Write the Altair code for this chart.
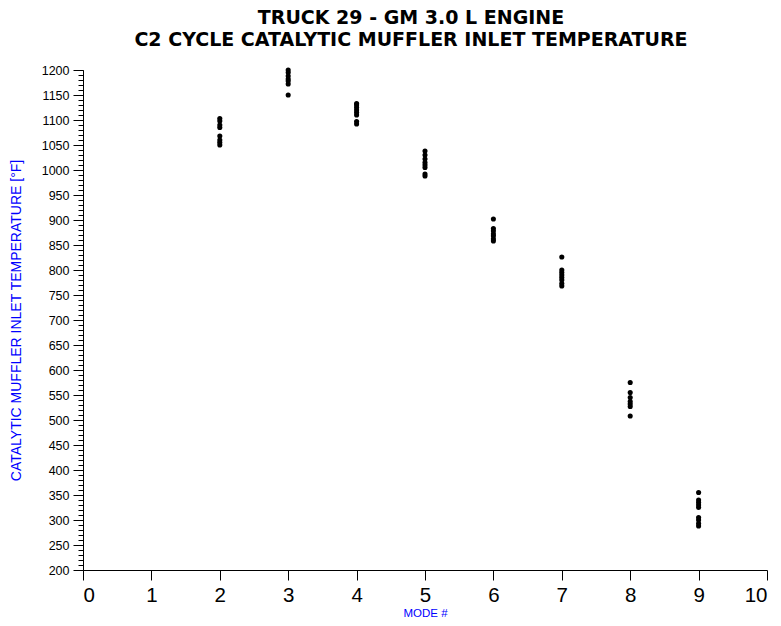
import altair as alt
import pandas as pd

mode2 = [1050, 1055, 1060, 1068, 1085, 1090, 1098, 1103]
mode3 = [1150, 1172, 1178, 1182, 1188, 1195, 1200]
mode4 = [1092, 1097, 1110, 1115, 1120, 1125, 1130, 1133]
mode5 = [988, 992, 1005, 1010, 1015, 1022, 1030, 1038]
mode6 = [858, 862, 868, 872, 878, 883, 902]
mode7 = [768, 773, 780, 785, 790, 795, 800, 826]
mode8 = [508, 527, 532, 537, 545, 555, 575]
mode9 = [288, 293, 300, 305, 325, 330, 335, 340, 355]

series = {2: mode2, 3: mode3, 4: mode4, 5: mode5, 6: mode6, 7: mode7, 8: mode8, 9: mode9}
rows = [{"mode": m, "temp": v} for m, vals in series.items() for v in vals]
df = pd.DataFrame(rows)

x_ticks = list(range(0, 11))
y_major = list(range(200, 1201, 50))
y_minor = list(range(200, 1201, 10))

FONT = "Liberation Sans"
WIDE = "DejaVu Sans"

xscale = alt.Scale(domain=[0, 10], nice=False, zero=False)
yscale = alt.Scale(domain=[200, 1200], nice=False, zero=False)

points = alt.Chart(df).mark_circle(size=26, color="black", opacity=1).encode(
    x=alt.X("mode:Q", scale=xscale,
            axis=alt.Axis(values=x_ticks, title="MODE #", titleColor="#0000ff",
                          titleFont=FONT, titleFontSize=11.5, titleFontWeight="normal",
                          titleBaseline="bottom", titleY=48,
                          labelFont=FONT, labelFontSize=20.5, labelColor="black",
                          labelPadding=5, tickSize=10, tickColor="black",
                          domainColor="black", grid=False, format="d")),
    y=alt.Y("temp:Q", scale=yscale,
            axis=alt.Axis(values=y_major, title="CATALYTIC MUFFLER INLET TEMPERATURE [°F]",
                          titleColor="#0000ff", titleFont=FONT, titleFontSize=14,
                          titleFontWeight="normal", titlePadding=18,
                          labelFont=FONT, labelFontSize=12.5, labelColor="black",
                          labelPadding=4, tickSize=10, tickColor="black",
                          domainColor="black", grid=False, format="d")),
)

minor = alt.Chart(pd.DataFrame({"temp": [200]})).mark_point(opacity=0).encode(
    y=alt.Y("temp:Q", scale=yscale,
            axis=alt.Axis(values=y_minor, orient="left", labels=False, title=None,
                          domain=False, tickSize=5, tickColor="black", grid=False)),
)

chart = alt.layer(points, minor).resolve_axis(y="independent").properties(
    width=684, height=500,
    title=alt.TitleParams(
        text=["TRUCK 29 - GM 3.0 L ENGINE", "C2 CYCLE CATALYTIC MUFFLER INLET TEMPERATURE"],
        font=WIDE, fontSize=19, fontWeight="bold", color="black",
        anchor="middle", offset=14, lineHeight=22, dx=-14),
    autosize=alt.AutoSizeParams(type="none"),
    padding={"left": 75, "top": 62, "right": 6, "bottom": 48},
).configure_view(stroke=None)

chart.save("out.html", embed_options={"renderer": "svg", "actions": False})
